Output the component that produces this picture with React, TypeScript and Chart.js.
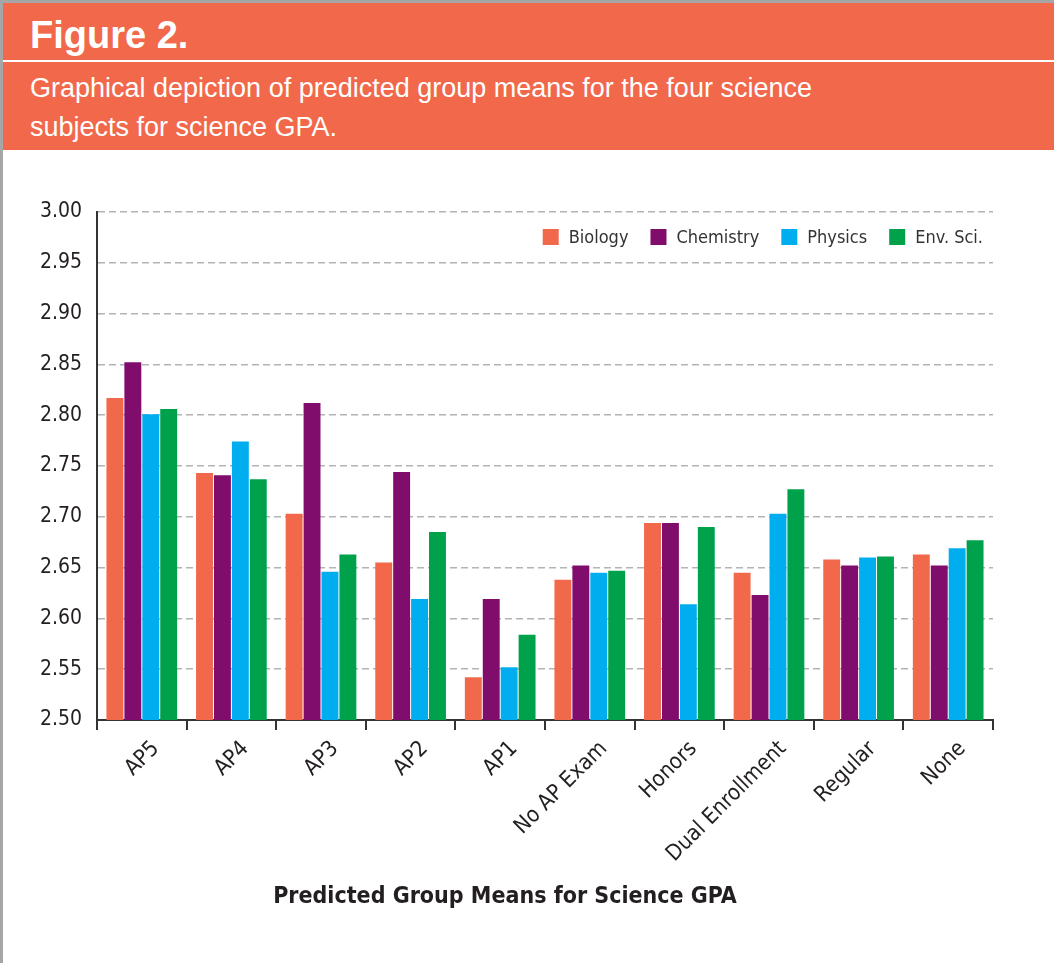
import React, { useEffect, useRef } from "react";
import { Chart, registerables } from "chart.js";

Chart.register(...registerables);

const categories = [
  "AP5",
  "AP4",
  "AP3",
  "AP2",
  "AP1",
  "No AP Exam",
  "Honors",
  "Dual Enrollment",
  "Regular",
  "None",
];
const biology = [2.817, 2.743, 2.703, 2.655, 2.542, 2.638, 2.694, 2.645, 2.658, 2.663];
const chemistry = [2.852, 2.741, 2.812, 2.744, 2.619, 2.652, 2.694, 2.623, 2.652, 2.652];
const physics = [2.801, 2.774, 2.646, 2.619, 2.552, 2.645, 2.614, 2.703, 2.66, 2.669];
const envSci = [2.806, 2.737, 2.663, 2.685, 2.584, 2.647, 2.69, 2.727, 2.661, 2.677];
const seriesNames = ["Biology", "Chemistry", "Physics", "Env. Sci."];
const seriesColors = ["#F1684B", "#800C6C", "#00AEEF", "#00A14B"];
const yMin = 2.5;
const yMax = 3.0;
const yStep = 0.05;
const xTitle = "Predicted Group Means for Science GPA";
const figureTitle = "Figure 2.";
const subtitleLines = [
  "Graphical depiction of predicted group means for the four science",
  "subjects for science GPA.",
];

const FONT = "'Liberation Sans Narrow', 'DejaVu Sans Condensed', 'Arial Narrow', sans-serif";
const TEXT = "#231F20";

const insideLegend = {
  id: "insideLegend",
  afterDraw(chart: any) {
    const { ctx, chartArea } = chart;
    const ds = chart.data.datasets;
    ctx.save();
    ctx.font = `18px ${FONT}`;
    ctx.textBaseline = "middle";
    ctx.textAlign = "left";
    const box = 16;
    const gapText = 10;
    const gapItems = 22;
    const widths = ds.map((d: any) => ctx.measureText(d.label).width);
    let total = 0;
    widths.forEach((w: number, i: number) => {
      total += box + gapText + w + (i < widths.length - 1 ? gapItems : 0);
    });
    let x = chartArea.right - 10 - total;
    const y = chartArea.top + 25;
    ds.forEach((d: any, i: number) => {
      ctx.fillStyle = d.backgroundColor;
      ctx.fillRect(x, y - box / 2, box, box);
      ctx.fillStyle = "#333333";
      ctx.fillText(d.label, x + box + gapText, y + 1);
      x += box + gapText + widths[i] + gapItems;
    });

    // x-axis title, centred under the whole figure as in the reference
    ctx.font = `bold 23px ${FONT}`;
    ctx.fillStyle = TEXT;
    ctx.textAlign = "center";
    ctx.textBaseline = "middle";
    ctx.fillText(xTitle, 505, 737);
    ctx.restore();
  },
};

function ChartCanvas() {
  const ref = useRef<HTMLCanvasElement | null>(null);
  useEffect(() => {
    if (!ref.current) return;
    const series = [biology, chemistry, physics, envSci];
    const chart = new Chart(ref.current, {
      type: "bar",
      data: {
        labels: categories,
        datasets: series.map((vals, i) => ({
          label: seriesNames[i],
          data: vals,
          backgroundColor: seriesColors[i],
          borderWidth: 0,
          categoryPercentage: 0.8,
          barPercentage: 0.944,
        })),
      },
      options: {
        responsive: false,
        animation: false,
        devicePixelRatio: 1,
        layout: { padding: { top: 52, right: 61, left: 0, bottom: 0 } },
        plugins: {
          legend: { display: false },
          tooltip: { enabled: false },
          title: { display: false },
        },
        scales: {
          x: {
            grid: {
              display: true,
              drawOnChartArea: false,
              drawTicks: true,
              tickLength: 10,
              color: "#333333",
              lineWidth: 2,
              offset: true,
            },
            border: { display: true, color: "#333333", width: 2 },
            ticks: {
              autoSkip: false,
              maxRotation: 45,
              minRotation: 45,
              padding: 6,
              labelOffset: 14,
              color: TEXT,
              font: { family: FONT, size: 22 },
            },
            title: { display: false },
            afterFit(scale: any) {
              scale.height = 243;
            },
          },
          y: {
            min: yMin,
            max: yMax,
            ticks: {
              stepSize: yStep,
              padding: 15,
              color: TEXT,
              font: { family: FONT, size: 21 },
              callback: (v: any) => Number(v).toFixed(2),
            },
            grid: { color: "#B3B3B3", lineWidth: 1.5, drawTicks: false },
            border: { display: true, color: "#333333", width: 2, dash: [7, 4] },
            afterFit(scale: any) {
              scale.width = 97;
            },
          },
        },
      },
      plugins: [insideLegend],
    });
    return () => chart.destroy();
  }, []);
  return (
    <canvas
      ref={ref}
      width={1054}
      height={803}
      style={{ position: "absolute", left: 0, top: 160, width: 1054, height: 803 }}
    />
  );
}

export default function App() {
  return (
    <div
      style={{
        position: "absolute",
        left: 0,
        top: 0,
        width: 1054,
        height: 963,
        background: "#ffffff",
        overflow: "hidden",
      }}
    >
      <div style={{ position: "absolute", left: 0, top: 0, width: 1054, height: 3, background: "#A6A6A6" }} />
      <div style={{ position: "absolute", left: 0, top: 0, width: 3, height: 963, background: "#A6A6A6" }} />
      <div
        style={{
          position: "absolute",
          left: 3,
          top: 3,
          width: 1051,
          height: 147,
          background: "#F1684B",
        }}
      />
      <div style={{ position: "absolute", left: 3, top: 60, width: 1051, height: 2, background: "#FFFFFF" }} />
      <div
        style={{
          position: "absolute",
          left: 30,
          top: 12,
          color: "#FFFFFF",
          fontFamily: "'Liberation Sans', Arial, sans-serif",
          fontWeight: "bold",
          fontSize: 38,
          lineHeight: "46px",
          whiteSpace: "nowrap",
        }}
      >
        {figureTitle}
      </div>
      <div
        style={{
          position: "absolute",
          left: 30,
          top: 69,
          color: "#FFFFFF",
          fontFamily: "'Liberation Sans', Arial, sans-serif",
          fontSize: 27,
          lineHeight: "39px",
          whiteSpace: "nowrap",
        }}
      >
        {subtitleLines.map((l, i) => (
          <div key={i}>{l}</div>
        ))}
      </div>
      <ChartCanvas />
    </div>
  );
}
